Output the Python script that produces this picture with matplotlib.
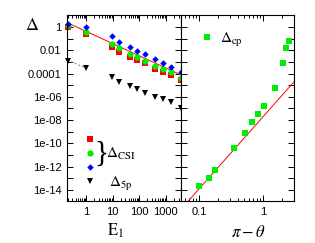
import numpy as np
import matplotlib
matplotlib.use("Agg")
import matplotlib.pyplot as plt
from matplotlib.ticker import FixedLocator, LogLocator, NullFormatter, FuncFormatter

plt.rcParams['font.family'] = ['Liberation Sans', 'DejaVu Sans']
plt.rcParams['mathtext.fontset'] = 'stix'

# left panel: Delta vs E1
E1 = [0.2, 1, 9, 17, 43, 82, 160, 390, 790, 1600, 3600]
d_red = [1.07, 0.25, 0.018, 0.0076, 0.0029, 0.0015, 7.7e-4, 2.5e-4, 1.5e-4, 7.7e-5, 2.6e-5]
d_green = [1.48, 0.35, 0.033, 0.015, 0.0049, 0.0025, 0.0012, 4.8e-4, 2.4e-4, 1.3e-4, 4.5e-5]
d_blue = [1.8, 1.07, 0.17, 0.055, 0.020, 0.0093, 0.0049, 0.0018, 8.7e-4, 4e-4, 1.5e-4]
d_5p = [1.2e-3, 3.3e-4, 4.9e-5, 2.1e-5, 8.8e-6, 4.6e-6, 2.3e-6, 9.5e-7, 6.3e-7, 3.5e-7, 1.1e-7]
fit_csi = (0.43, -1.05)   # prefactor, exponent
fit_5p = (3.0e-4, -0.95)

# right panel: Delta_cp vs pi - theta
pt = [0.1, 0.142, 0.178, 0.352, 0.524, 0.68, 0.845, 1.03, 1.54, 2.03, 2.29, 2.52]
d_cp = [2e-14, 1.1e-13, 4.9e-13, 4e-11, 7.8e-10, 6.8e-9, 3.3e-8, 1.5e-7, 6.3e-6, 8.7e-4, 0.017, 0.067]
fit_cp = (1.95e-8, 6.2)

red, green, blue = '#ff0000', '#00ee00', '#0000ff'

fig = plt.figure(figsize=(3.15, 2.43), dpi=100)
ax1 = fig.add_axes([0.2127, 0.1728, 0.3619, 0.7654])
ax2 = fig.add_axes([0.5746, 0.1728, 0.3587, 0.7654], sharey=ax1)

ylo, yhi = 1.1e-15, 11

# left
xl = np.logspace(np.log10(0.19), np.log10(3700), 50)
ax1.plot(xl, fit_csi[0] * xl ** fit_csi[1], color=red, lw=0.7)
xs = np.logspace(np.log10(0.2), np.log10(0.8), 10)
ax1.plot(xs, fit_5p[0] * xs ** fit_5p[1], color='#777777', lw=0.7, ls=(0, (2, 2)))
ax1.plot(E1, d_red, 's', color=red, ms=4.2, mew=0, clip_on=False)
ax1.plot(E1, d_green, 'o', color=green, ms=4.5, mew=0, clip_on=False)
ax1.plot(E1, d_blue, 'D', color=blue, ms=3.3, mew=0, clip_on=False)
ax1.plot(E1, d_5p, 'v', color='black', ms=4.4, mew=0, clip_on=False)
ax1.set_xscale('log')
ax1.set_yscale('log')
ax1.set_xlim(0.19, 3700)
ax1.set_ylim(ylo, yhi)

# legend of the left panel
ax1.plot([0.20], [0.332], 's', color=red, ms=4.2, mew=0, transform=ax1.transAxes)
ax1.plot([0.20], [0.256], 'o', color=green, ms=4.5, mew=0, transform=ax1.transAxes)
ax1.plot([0.20], [0.184], 'D', color=blue, ms=3.3, mew=0, transform=ax1.transAxes)
ax1.plot([0.20], [0.109], 'v', color='black', ms=4.4, mew=0, transform=ax1.transAxes)
ax1.text(0.30, 0.252, '}', transform=ax1.transAxes, fontsize=21, family='Liberation Serif',
         ha='center', va='center')
ax1.text(0.345, 0.23, r'$\Delta_{\rm CSI}$', transform=ax1.transAxes, fontsize=11, va='baseline')
ax1.text(0.365, 0.075, r'$\Delta_{\rm 5p}$', transform=ax1.transAxes, fontsize=11, va='baseline')

# right
xr = np.logspace(np.log10(0.05), np.log10(3.1), 50)
ax2.plot(xr, fit_cp[0] * xr ** fit_cp[1], color=red, lw=0.7)
ax2.plot(pt, d_cp, 's', color=green, ms=4.4, mew=0, clip_on=False)
ax2.set_xscale('log')
ax2.set_xlim(0.052, 3.05)
ax2.plot([0.227], [0.883], 's', color=green, ms=4.4, mew=0, transform=ax2.transAxes)
ax2.text(0.345, 0.848, r'$\Delta_{\rm cp}$', transform=ax2.transAxes, fontsize=11, va='baseline')

# ticks
dec = [10.0 ** k for k in range(-15, 2)]
for ax in (ax1, ax2):
    ax.yaxis.set_major_locator(FixedLocator(dec))
    ax.yaxis.set_minor_locator(FixedLocator([]))
    ax.xaxis.set_major_locator(LogLocator(base=10, numticks=20))
    ax.xaxis.set_minor_locator(LogLocator(base=10, subs=np.arange(2, 10), numticks=20))
    ax.tick_params(which='both', direction='in', top=True, right=True, labelsize=8, width=0.7)
    ax.tick_params(which='major', length=4, pad=4)
    ax.tick_params(which='minor', length=2)
    for s in ax.spines.values():
        s.set_linewidth(0.8)


def yfmt(v, pos):
    k = int(round(np.log10(v)))
    if k % 2:
        return ''
    labels = {0: '1', -2: '0.01', -4: '0.0001'}
    return labels.get(k, '1e-%02d' % -k)


def xfmt(v, pos):
    return '%g' % v


ax1.yaxis.set_major_formatter(FuncFormatter(yfmt))
ax1.xaxis.set_major_formatter(FuncFormatter(xfmt))
ax2.xaxis.set_major_formatter(FuncFormatter(xfmt))
ax1.xaxis.set_minor_formatter(NullFormatter())
ax2.xaxis.set_minor_formatter(NullFormatter())
ax2.tick_params(axis='y', labelleft=False)
ax1.set_ylim(ylo, yhi)

fig.text(0.102, 0.895, r'$\Delta$', fontsize=13, ha='center', va='center')
fig.text(0.368, 0.05, r'$\mathrm{E}_1$', fontsize=12, ha='center', va='center')
fig.text(0.79, 0.045, r'$\pi - \theta$', fontsize=12, ha='center', va='center')

fig.savefig('out.png', dpi=100)
